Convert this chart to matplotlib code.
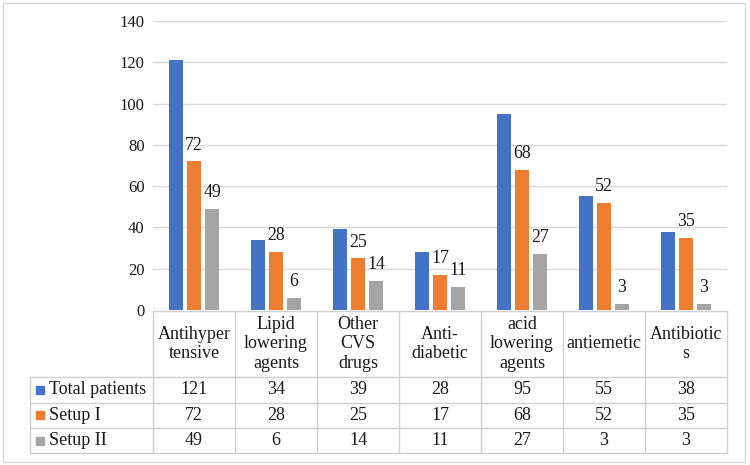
import matplotlib.pyplot as plt
from matplotlib.patches import Rectangle
import numpy as np

plt.rcParams['font.family'] = ['Liberation Serif', 'DejaVu Serif']

# data
categories = ["Antihyper\ntensive", "Lipid\nlowering\nagents", "Other\nCVS\ndrugs",
              "Anti-\ndiabetic", "acid\nlowering\nagents", "antiemetic", "Antibiotic\ns"]
series_names = ["Total patients", "Setup I", "Setup II"]
total_patients = [121, 34, 39, 28, 95, 55, 38]
setup_1 = [72, 28, 25, 17, 68, 52, 35]
setup_2 = [49, 6, 14, 11, 27, 3, 3]
y_ticks = [0, 20, 40, 60, 80, 100, 120, 140]

colors = ["#4472C4", "#ED7D31", "#A5A5A5"]
grid_col = "#d9d9d9"
txt_col = "#1a1a1a"
FS = 12
FS_LBL = 12.8
FS_TAB = 13

fig = plt.figure(figsize=(7.5, 4.65), dpi=100)

# figure border
fig.patches.append(Rectangle((3 / 750, 3 / 465), 742 / 750, 459 / 465, transform=fig.transFigure,
                             fill=False, edgecolor=grid_col, linewidth=1))

######################################## BARS ########################################

ax = fig.add_axes([153 / 750, 155 / 465, 574 / 750, 289 / 465])
x = np.arange(len(categories))
bw = 0.18
step = 0.22
all_series = [total_patients, setup_1, setup_2]
for i, vals in enumerate(all_series):
    xs = x + (i - 1) * step
    ax.bar(xs, vals, width=bw, color=colors[i], zorder=3)
    if i > 0:
        for xx, v in zip(xs, vals):
            ax.annotate(str(v), (xx, v), xytext=(0, 8.5), textcoords="offset points",
                        ha="center", va="baseline", fontsize=FS_LBL, color=txt_col)

ax.set_xlim(-0.5, len(categories) - 0.5)
ax.set_ylim(0, 140)
ax.set_yticks(y_ticks)
ax.set_xticks([])
ax.tick_params(axis="y", length=0, pad=6, labelsize=FS, labelcolor=txt_col)
ax.yaxis.grid(True, color=grid_col, linewidth=1, zorder=0)
for s in ax.spines.values():
    s.set_visible(False)

######################################## TABLE ########################################

# row-label column is 1.5 category widths wide
tab = fig.add_axes([30 / 750, 12 / 465, 697 / 750, 142 / 465])
left = -2.0
right = len(categories) - 0.5
tab.set_xlim(left, right)
tab.set_ylim(142, 0)
tab.axis("off")

row_edges = [66, 91.5, 117, 142]
lc = "#d0d0d0"
# top of header
tab.plot([-0.5, right], [0, 0], color=lc, lw=1, clip_on=False)
for y in row_edges:
    tab.plot([left, right], [y, y], color=lc, lw=1, clip_on=False)
# vertical lines
tab.plot([left, left], [66, 142], color=lc, lw=1, clip_on=False)
for k in range(len(categories) + 1):
    tab.plot([k - 0.5, k - 0.5], [0, 142], color=lc, lw=1, clip_on=False)

for k, c in enumerate(categories):
    tab.text(k, 33, c, ha="center", va="center", fontsize=FS_TAB, color=txt_col,
             linespacing=1.2, multialignment="center")

row_mid = [78.75, 104.25, 129.75]
for r, (name, vals) in enumerate(zip(series_names, all_series)):
    ym = row_mid[r]
    tab.add_patch(Rectangle((left + 6 / 82, ym - 4), 8 / 82, 8, color=colors[r], clip_on=False))
    tab.text(left + 19 / 82, ym, name, ha="left", va="center", fontsize=FS_TAB, color=txt_col)
    for k, v in enumerate(vals):
        tab.text(k, ym, str(v), ha="center", va="center", fontsize=FS_TAB, color=txt_col)

fig.savefig("out.png", dpi=100)
